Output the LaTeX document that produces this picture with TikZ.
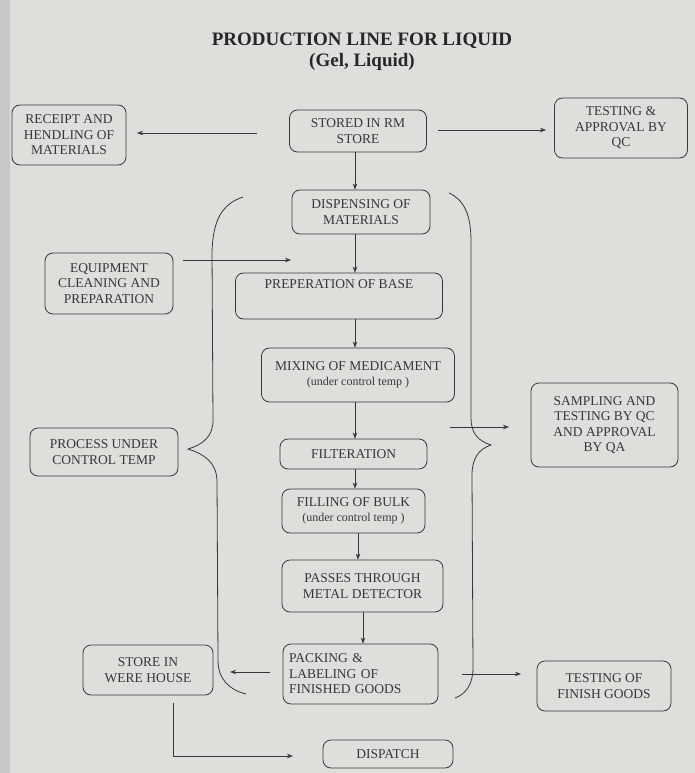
\documentclass[tikz,border=0pt]{standalone}
\usepackage{fontspec}
\setmainfont{Liberation Serif}
\usetikzlibrary{arrows.meta}
\definecolor{paper}{RGB}{222,222,219}
\definecolor{paperdark}{RGB}{200,200,198}
\definecolor{ink}{RGB}{55,55,55}
\begin{document}
\begin{tikzpicture}[x=1pt,y=-1pt,
  box/.style={draw=ink, line width=0.8pt, rounded corners=8pt, inner sep=0pt,
    align=center, text=ink, font=\fontsize{13.5}{15.5}\selectfont},
  small/.style={font=\fontsize{12}{14}\selectfont},
  arr/.style={draw=ink, line width=0.7pt, -{Stealth[length=6pt,width=4.5pt]}},
  ln/.style={draw=ink, line width=0.7pt},
  brace/.style={draw=ink, line width=0.8pt}]
\fill[paper] (0,0) rectangle (695,773);
\fill[paperdark] (0,0) rectangle (10,773);
\useasboundingbox (0,0) rectangle (695,773);

% title
\node[text=black!85, align=center, font=\bfseries\fontsize{19}{21}\selectfont] (title) at (362,52)
  {PRODUCTION LINE FOR LIQUID\\(Gel, Liquid)};

% boxes
\node[box, minimum width=114pt, minimum height=60pt] (receipt) at (69,135) {RECEIPT AND\\HENDLING OF\\MATERIALS};
\node[box, minimum width=137pt, minimum height=42pt] (stored) at (358,131) {STORED IN RM\\STORE};
\node[box, minimum width=133pt, minimum height=60pt] (testqc) at (621,128) {TESTING \&\\APPROVAL BY\\QC};
\node[box, minimum width=138pt, minimum height=44pt] (disp) at (361,212) {DISPENSING OF\\MATERIALS};
\node[box, minimum width=128pt, minimum height=61pt] (equip) at (109,283.5) {EQUIPMENT\\CLEANING AND\\PREPARATION};
\node[box, minimum width=207pt, text height=15pt, text depth=31pt] (prep) at (339,296) {PREPERATION OF BASE};
\node[box, minimum width=193pt, minimum height=54pt] (mix) at (358,375) {MIXING OF MEDICAMENT\\{\fontsize{12}{14}\selectfont (under control temp )}};
\node[box, minimum width=147pt, minimum height=84pt] (sampling) at (604.5,425) {SAMPLING AND\\TESTING BY QC\\AND APPROVAL\\BY QA};
\node[box, minimum width=148pt, minimum height=48pt] (process) at (104,452) {PROCESS UNDER\\CONTROL TEMP};
\node[box, minimum width=147pt, minimum height=30pt] (filter) at (353.5,454) {FILTERATION};
\node[box, minimum width=143pt, minimum height=44pt] (filling) at (353.5,511) {FILLING OF BULK\\{\fontsize{12}{14}\selectfont (under control temp )}};
\node[box, minimum width=161pt, minimum height=52pt] (passes) at (362.5,586) {PASSES THROUGH\\METAL DETECTOR};
\node[box, text width=143pt, inner xsep=6pt, align=left, minimum height=60pt] (packing) at (360.5,674) {PACKING \&\\LABELING OF\\FINISHED GOODS};
\node[box, minimum width=130pt, minimum height=50pt] (store) at (148,670) {STORE IN\\WERE HOUSE};
\node[box, minimum width=134pt, minimum height=50pt] (testfg) at (604,686) {TESTING OF\\FINISH GOODS};
\node[box, minimum width=130pt, minimum height=28pt] (dispatch) at (388,754) {DISPATCH};

% free-end coordinates
\coordinate (rcS) at (257,133);
\coordinate (rcE) at (137,133);
\coordinate (qcS) at (438,130);
\coordinate (qcE) at (546,130);
\coordinate (eqS) at (183,260);
\coordinate (eqE) at (291,260);
\coordinate (smS) at (450,427);
\coordinate (smE) at (509,427);
\coordinate (whS) at (270,672);
\coordinate (whE) at (230,672);
\coordinate (fgS) at (462,674);
\coordinate (fgE) at (521,674);
\coordinate (dpS) at (173,703);
\coordinate (dpC) at (173,756);
\coordinate (dpE) at (293,756);

% main flow
\draw[arr] (355,152) -- (disp.north -| 355,0);
\draw[arr] (disp.south -| 355,0) -- (prep.north -| 355,0);
\draw[arr] (prep.south -| 355,0) -- (mix.north -| 355,0);
\draw[arr] (mix.south -| 355,0) -- (filter.north -| 355,0);
\draw[arr] (filter.south -| 355,0) -- (filling.north -| 355,0);
\draw[arr] (filling.south -| 358,0) -- (passes.north -| 358,0);
\draw[arr] (passes.south -| 363,0) -- (packing.north -| 363,0);

% side arrows
\draw[arr] (rcS) -- (rcE);
\draw[arr] (qcS) -- (qcE);
\draw[arr] (eqS) -- (eqE);
\draw[arr] (smS) -- (smE);
\draw[arr] (whS) -- (whE);
\draw[arr] (fgS) -- (fgE);
\draw[ln] (dpS) -- (dpC);
\draw[arr] (dpC) -- (dpE);

% braces
\draw[brace] (243,197) .. controls (222,204) and (213,220) .. (212,252)
  -- (213,420) .. controls (213,436) and (204,444) .. (188,449)
  .. controls (204,454) and (216,462) .. (217,480)
  -- (218,660) .. controls (218,680) and (230,690) .. (246,694);
\draw[brace] (449,193) .. controls (464,200) and (471,214) .. (471,242)
  -- (471,418) .. controls (471,433) and (478,441) .. (491,445)
  .. controls (479,449) and (472,458) .. (472,475)
  -- (473,668) .. controls (473,684) and (466,694) .. (455,698);
\end{tikzpicture}
\end{document}
